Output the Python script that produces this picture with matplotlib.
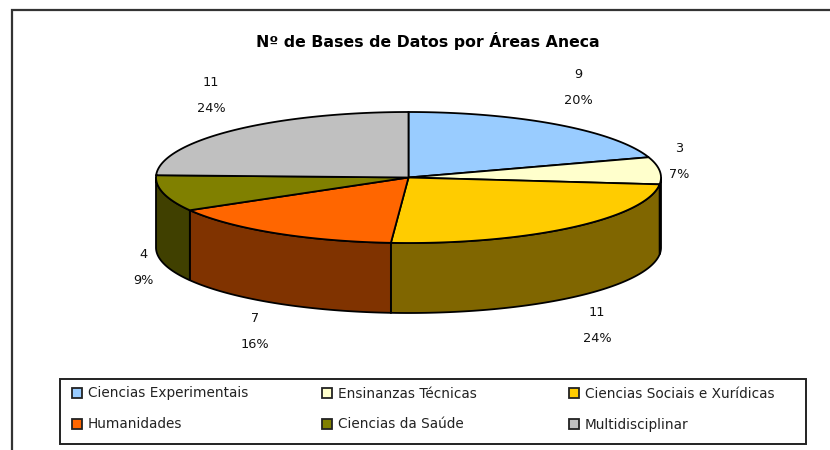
import numpy as np
import matplotlib
matplotlib.use('Agg')
import matplotlib.pyplot as plt
from matplotlib.patches import Rectangle

title = 'Nº de Bases de Datos por Áreas Aneca'
areas = ['Ciencias Experimentais', 'Ensinanzas Técnicas', 'Ciencias Sociais e Xurídicas',
         'Humanidades', 'Ciencias da Saúde', 'Multidisciplinar']
counts = [9, 3, 11, 7, 4, 11]
percents = ['20%', '7%', '24%', '16%', '9%', '24%']

top_colors = ['#99CCFF', '#FFFFCC', '#FFCC00', '#FF6600', '#808000', '#C0C0C0']
side_colors = ['#4C6680', '#808066', '#806600', '#803300', '#404000', '#606060']

# pie geometry, in pixels of the picture
cx, cy = 408.5, 177.5
rx, ry = 252.5, 65.5
depth = 70

label_xy = [(578, 75), (679, 149), (597, 313), (255, 319), (143, 255), (211, 83)]
swatch_x = [77, 327, 574]
text_x = [88, 338, 585]
row_y = [393, 424]

fig = plt.figure(figsize=(8.3, 4.5), dpi=100)
ax = fig.add_axes([0, 0, 1, 1])
ax.set_xlim(0, 830)
ax.set_ylim(450, 0)
ax.axis('off')


def rim(a, b):
    t = np.radians(np.linspace(a, b, 80))
    return cx + rx * np.sin(t), cy - ry * np.cos(t)


edges = np.concatenate([[0], np.cumsum(counts)]) / sum(counts) * 360

# side walls, only the front half can be seen
for i in range(len(counts)):
    a, b = max(edges[i], 90), min(edges[i + 1], 270)
    if a >= b:
        continue
    x, y = rim(a, b)
    ax.fill(np.r_[x, x[::-1]], np.r_[y, y[::-1] + depth], fc=side_colors[i], ec='black', lw=1.3, zorder=2)

# top of the pie
for i in range(len(counts)):
    x, y = rim(edges[i], edges[i + 1])
    ax.fill(np.r_[cx, x], np.r_[cy, y], fc=top_colors[i], ec='black', lw=1.3, zorder=3)

ax.text(428, 41, title, ha='center', va='center', fontsize=11.3, fontweight='bold', color='black')

for i, (lx, ly) in enumerate(label_xy):
    ax.text(lx, ly, str(counts[i]), ha='center', va='center', fontsize=9.3, color='#111111')
    ax.text(lx, ly + 25, percents[i], ha='center', va='center', fontsize=9.3, color='#111111')

# legend box
ax.add_patch(Rectangle((60, 379), 746, 65, fc='white', ec='#222222', lw=1.4, zorder=1))
for i, name in enumerate(areas):
    row, col = i // 3, i % 3
    ax.add_patch(Rectangle((swatch_x[col] - 5, row_y[row] - 5), 10, 10, fc=top_colors[i], ec='#222222', lw=1.3))
    ax.text(text_x[col], row_y[row] + 0.5, name, ha='left', va='center', fontsize=9.8, color='#222222')

# outer frame, only top and left are inside the picture
ax.plot([11.5, 11.5, 830], [450, 9.5, 9.5], color='#333333', lw=1.6, solid_joinstyle='miter')

fig.savefig('out.png', dpi=100)
